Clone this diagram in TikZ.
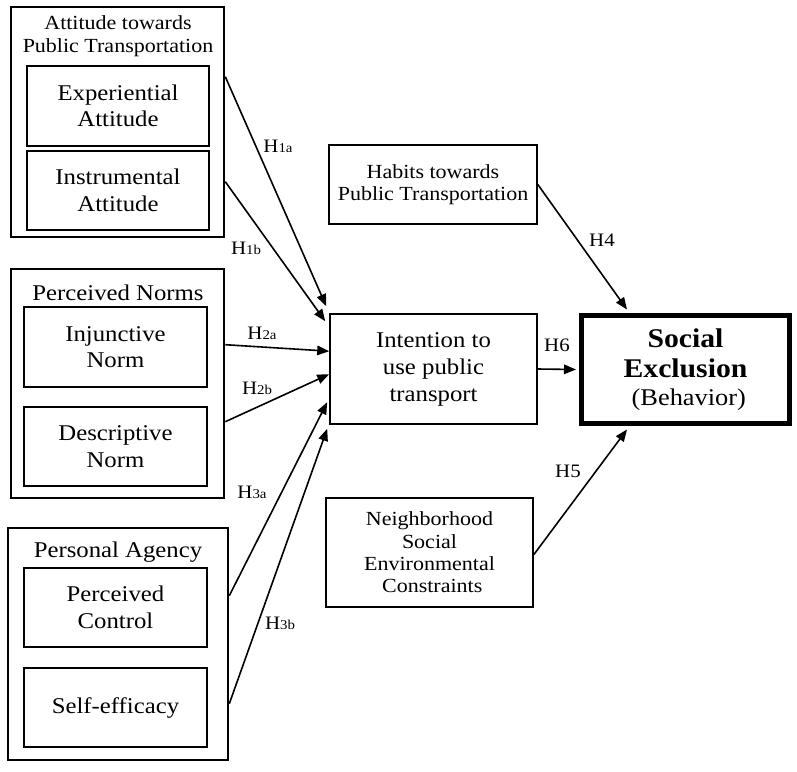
\documentclass[tikz,border=0pt]{standalone}
\usepackage{fontspec}
\setmainfont{Liberation Serif}[FakeStretch=1.1]
\usetikzlibrary{arrows.meta}
\newcommand{\hsub}[1]{{\fontsize{13.5}{13.5}\selectfont #1}}
\begin{document}
\begin{tikzpicture}[x=1pt,y=-1pt,
  grp/.style={draw, line width=2.6pt, inner sep=0pt},
  sub/.style={draw, line width=2.4pt, inner sep=0pt, minimum width=182pt, minimum height=80pt, align=center, font=\fontsize{22.5}{26.5}\selectfont},
  box/.style={draw, line width=1.6pt, inner sep=0pt, align=center},
  ttl/.style={align=center, inner sep=0pt},
  arr/.style={line width=1.6pt, -{Triangle[length=12pt,width=9.5pt]}},
  hl/.style={font=\fontsize{19}{19}\selectfont, inner sep=0pt}]
\useasboundingbox (0,0) rectangle (797,771);

% Attitude group
\node[grp, minimum width=213pt, minimum height=230pt] (attg) at (117.5,122) {};
\node[ttl, font=\fontsize{20}{23}\selectfont] (attt) at (118,36.5) {Attitude towards\\Public Transportation};
\node[sub] (exp) at (118,106) {Experiential\\Attitude};
\node[sub, minimum height=79pt] (ins) at (118,190.5) {Instrumental\\Attitude};

% Norms group
\node[grp, minimum width=213pt, minimum height=229pt] (normg) at (117.5,383.5) {};
\node[ttl, font=\fontsize{22.5}{26}\selectfont] (normt) at (118,293) {Perceived Norms};
\node[sub, minimum width=183pt] (inj) at (115.5,347) {Injunctive\\Norm};
\node[sub, minimum width=183pt, minimum height=79pt] (des) at (115.5,446.5) {Descriptive\\Norm};

% Agency group
\node[grp, minimum width=220pt, minimum height=232pt] (agg) at (118,644) {};
\node[ttl, font=\fontsize{22.5}{26}\selectfont] (agt) at (118,552) {Personal Agency};
\node[sub, minimum width=183pt, minimum height=79pt] (pc) at (115.5,607.5) {Perceived\\Control};
\node[sub, minimum width=183pt, minimum height=79pt] (se) at (115.5,707.5) {Self-efficacy};

% Right side
\node[box, minimum width=208pt, minimum height=79pt, font=\fontsize{20}{22}\selectfont] (hab) at (433,184.5) {Habits towards\\Public Transportation};
\node[box, minimum width=207pt, minimum height=110pt, font=\fontsize{22.5}{27}\selectfont] (int) at (433.5,369) {Intention to\\use public\\transport};
\node[draw, line width=5pt, inner sep=0pt, align=center, minimum width=208pt, minimum height=108pt, font=\fontsize{27}{30}\selectfont\bfseries] (soc) at (685.5,369.5)
  {Social\\Exclusion\\[-2pt]\fontsize{24}{28}\selectfont\mdseries\ (Behavior)};
\node[box, line width=1.8pt, minimum width=207pt, minimum height=109pt, font=\fontsize{20}{22.3}\selectfont] (nei) at (429.5,552.5) {Neighborhood\\Social\\Environmental\\\ Constraints};

% Arrows
\draw[arr] ([yshift=-71pt]attg.north east) -- ([shift={(-3pt,7pt)}]int.north west);
\draw[arr] ([yshift=-176pt]attg.north east) -- ([shift={(-4pt,-8pt)}]int.north west);
\draw[arr] ([yshift=-77pt]normg.north east) -- ([yshift=-38pt]int.north west);
\draw[arr] ([yshift=-154pt]normg.north east) -- ([yshift=-61pt]int.north west);
\draw[arr] ([yshift=-69pt]agg.north east) -- ([shift={(-2pt,-89pt)}]int.north west);
\draw[arr] ([yshift=-177pt]agg.north east) -- ([shift={(-2pt,-4pt)}]int.south west);
\draw[arr] (hab.east) -- ([shift={(-58.5pt,3.5pt)}]soc.north);
\draw[arr] ([yshift=-2pt]nei.east) -- ([shift={(-58.5pt,-3.5pt)}]soc.south);
\draw[arr] (int.east) -- ([xshift=-3pt]soc.west);

% Labels
\node[hl] (l1a) at (278,146) {H\hsub{1a}};
\node[hl] (l1b) at (246,248) {H\hsub{1b}};
\node[hl] (l2a) at (262,333) {H\hsub{2a}};
\node[hl] (l2b) at (257,388) {H\hsub{2b}};
\node[hl] (l3a) at (252,492) {H\hsub{3a}};
\node[hl] (l3b) at (280,623) {H\hsub{3b}};
\node[hl] (l4) at (602,240) {H4};
\node[hl] (l5) at (568,471) {H5};
\node[hl] (l6) at (557,345) {H6};
\end{tikzpicture}
\end{document}
